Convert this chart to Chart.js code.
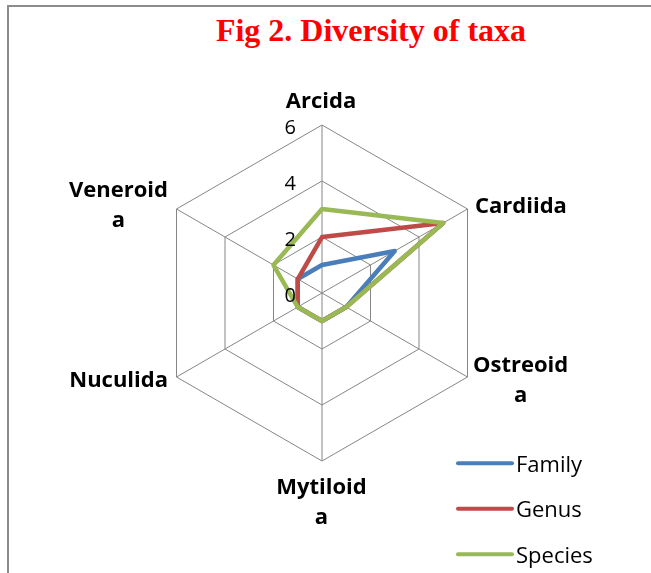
<!DOCTYPE html>
<html>
<head>
<meta charset="utf-8">
<title>Fig 2. Diversity of taxa</title>
<script src="https://cdn.jsdelivr.net/npm/chart.js@4.4.1/dist/chart.umd.min.js"></script>
<style>
  html, body { margin: 0; padding: 0; background: #fff; overflow: hidden; }
  #wrap { position: relative; width: 651px; height: 573px; overflow: hidden; }
  #frame { position: absolute; left: 7px; top: 5px; width: 800px; height: 700px; border: 2px solid #8c8c8c; }
  #title { position: absolute; left: 0; top: 11px; width: 742px; margin: 0; text-align: center;
           font: bold 32px/38px "Liberation Serif", "Times New Roman", serif; color: #ff0000; }
  #taxaRadar { position: absolute; left: 0; top: 0; }
</style>
</head>
<body>
<div id="wrap">
  <div id="frame"></div>
  <h2 id="title">Fig 2. Diversity of taxa</h2>
  <canvas id="taxaRadar" width="651" height="573"></canvas>
</div>
<script>
// Orders, clockwise from the top (wrapped the same way as the original figure)
const orders = ['Arcida', 'Cardiida', ['Ostreoid', 'a'], ['Mytiloid', 'a'], 'Nuculida', ['Veneroid', 'a']];

// Number of taxa in each order
const familyCounts = [1, 3, 1, 1, 1, 1];
const genusCounts = [2, 5, 1, 1, 1, 1];
const speciesCounts = [3, 5, 1, 1, 1, 2];

// Radial axis ticks
const tickValues = [0, 2, 4, 6];

const gridColor = '#868686';

// Where each order name sits relative to its spoke end (Excel style placement)
const labelPlacement = [
  { align: 'center', dx: -1, dy: -17 },
  { align: 'left', dx: 7.5, dy: 3.7 },
  { align: 'left', dx: 5.5, dy: -5.3 },
  { align: 'center', dx: -0.5, dy: 33 },
  { align: 'right', dx: -8.5, dy: 10 },
  { align: 'right', dx: -8.5, dy: -12.3 }
];

// Draws tick numbers, order names and the legend the way Excel lays them out
const excelTextPlugin = {
  id: 'excelText',
  afterDraw(chart) {
    const ctx = chart.ctx;
    const scale = chart.scales.r;
    ctx.save();
    ctx.fillStyle = '#000';

    // tick numbers, left of the vertical spoke
    ctx.font = '20px "Open Sans", sans-serif';
    ctx.textAlign = 'right';
    ctx.textBaseline = 'alphabetic';
    scale.ticks.forEach(t => {
      const y = scale.yCenter - scale.getDistanceFromCenterForValue(t.value);
      ctx.fillText(String(t.value), scale.xCenter - 26, y + 8.5);
    });

    // order names
    ctx.font = 'bold 22px "Open Sans", sans-serif';
    ctx.textAlign = 'center';
    chart.data.labels.forEach((label, i) => {
      const lines = Array.isArray(label) ? label : [label];
      const p = scale.getPointPosition(i, scale.drawingArea);
      const place = labelPlacement[i];
      const w = Math.max(...lines.map(l => ctx.measureText(l).width));
      let cx = p.x + place.dx;
      if (place.align === 'left') cx += w / 2;
      if (place.align === 'right') cx -= w / 2;
      lines.forEach((line, k) => {
        ctx.fillText(line, cx, p.y + place.dy + k * 30);
      });
    });

    // legend, bottom right
    ctx.font = '22px "Open Sans", sans-serif';
    ctx.textAlign = 'left';
    ctx.lineCap = 'round';
    ctx.lineWidth = 4;
    chart.data.datasets.forEach((ds, i) => {
      const y = 463.3 + i * 45.5;
      ctx.strokeStyle = ds.borderColor;
      ctx.beginPath();
      ctx.moveTo(458, y);
      ctx.lineTo(512, y);
      ctx.stroke();
      ctx.fillText(ds.label, 516, y + 8.4);
    });
    ctx.restore();
  }
};

const radarData = {
  labels: orders,
  datasets: [{
    label: 'Family',
    data: familyCounts,
    borderColor: '#4a7ebb',
    order: 3
  }, {
    label: 'Genus',
    data: genusCounts,
    borderColor: '#be4b48',
    order: 2
  }, {
    label: 'Species',
    data: speciesCounts,
    borderColor: '#98b954',
    order: 1
  }]
};

const radarConfig = {
  type: 'radar',
  data: radarData,
  options: {
    responsive: false,
    animation: false,
    devicePixelRatio: 1,
    layout: {
      padding: { left: 154, right: 161, top: 125, bottom: 112 }
    },
    elements: {
      line: { borderWidth: 4.5, tension: 0, fill: false, borderJoinStyle: 'round', borderCapStyle: 'round' },
      point: { radius: 0, hoverRadius: 0 }
    },
    plugins: {
      legend: { display: false },
      title: { display: false },
      tooltip: { enabled: false }
    },
    scales: {
      r: {
        min: 0,
        max: 6,
        afterBuildTicks: scale => {
          scale.ticks = tickValues.map(v => ({ value: v }));
        },
        ticks: { display: false },
        grid: { color: gridColor, lineWidth: 1 },
        angleLines: { color: gridColor, lineWidth: 1 },
        pointLabels: { display: false }
      }
    }
  },
  plugins: [excelTextPlugin]
};

const taxaRadar = new Chart(document.getElementById('taxaRadar'), radarConfig);
</script>
</body>
</html>
